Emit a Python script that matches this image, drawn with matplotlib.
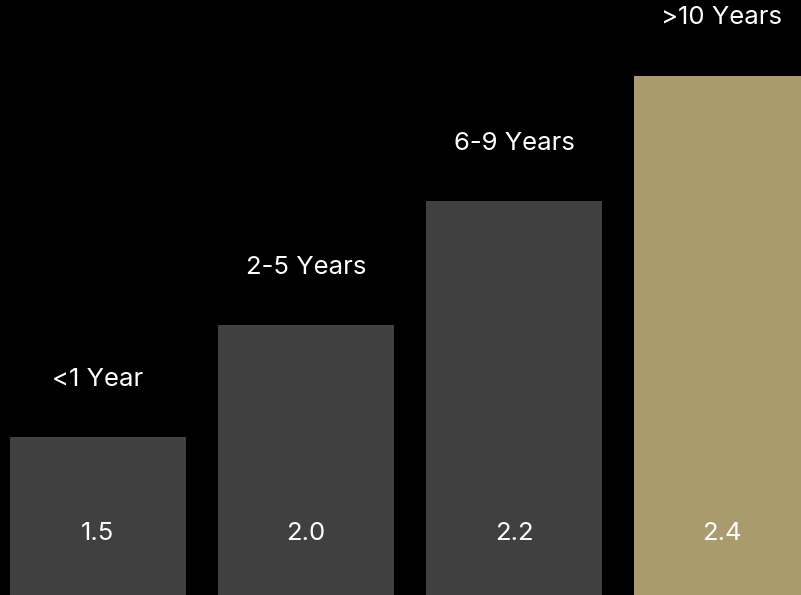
import matplotlib
matplotlib.use("Agg")
import matplotlib.pyplot as plt
import numpy as np

# data
categories = ["<1 Year", "2-5 Years", "6-9 Years", ">10 Years"]
values = [1.5, 2.0, 2.2, 2.4]
# bar heights as drawn (the picture's bars are not to scale with the values)
bar_heights = [158, 270, 394, 519]

GRAY = "#404040"
GOLD = "#a99b6b"
colors = [GRAY, GRAY, GRAY, GOLD]

plt.rcParams["font.family"] = ["Inter", "DejaVu Sans"]

fig = plt.figure(figsize=(8.01, 5.95), dpi=100, facecolor="black")
ax = fig.add_axes([0, 0, 1, 1], facecolor="black")

x = np.arange(len(categories))
ax.bar(x, bar_heights, width=176 / 208, color=colors, linewidth=0)

for xi, h, cat, v in zip(x, bar_heights, categories, values):
    ax.text(xi, h + 58, cat, ha="center", va="center", color="white", fontsize=18.5)
    ax.text(xi, 61, f"{v:.1f}", ha="center", va="center", color="white", fontsize=18.5)

ax.set_xlim(-98 / 208, 703 / 208)
ax.set_ylim(0, 595)
ax.axis("off")

fig.savefig("out.png", dpi=100, facecolor="black")
